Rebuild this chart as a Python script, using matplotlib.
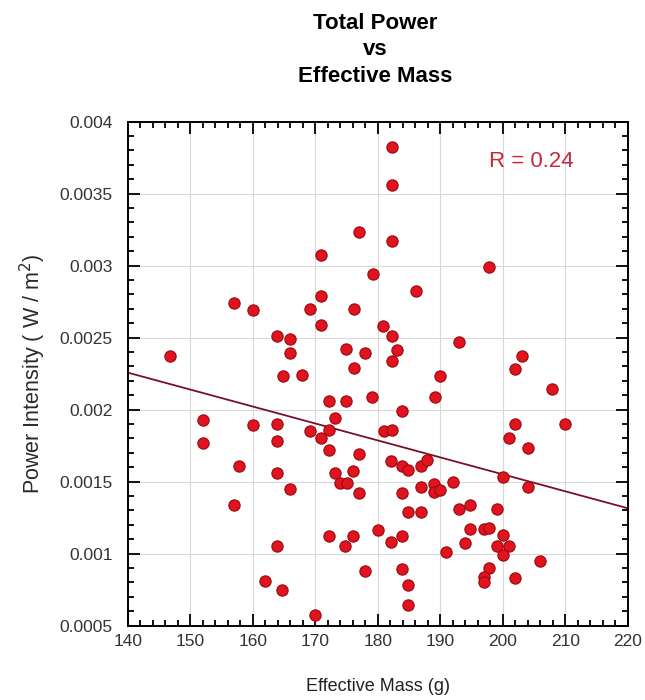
import matplotlib
matplotlib.use("Agg")
import matplotlib.pyplot as plt
from matplotlib.ticker import MultipleLocator, FixedLocator

plt.rcParams["font.family"] = ["Liberation Sans", "DejaVu Sans"]

# effective mass (g) and power intensity (W/m^2)
mass = [
    177.0, 170.9, 179.2, 156.9, 160.0, 170.9, 169.1, 176.1, 170.9, 180.8,
    163.8, 166.0, 146.8, 166.0, 174.9, 177.9, 176.1, 164.8, 167.8, 172.1,
    174.9, 179.0, 152.0, 160.0, 163.9, 173.1, 169.1, 172.1, 152.0, 163.9,
    170.9, 172.1, 176.9, 157.8, 163.9, 173.1, 176.0, 173.9, 175.0, 166.0,
    176.9, 156.9, 172.1, 176.0, 174.8, 163.9, 180.0, 177.9, 162.0, 164.7,
    170.0, 182.2, 182.2, 182.2, 197.8, 186.1, 182.2, 193.0, 183.1, 182.2,
    203.0, 202.0, 189.9, 189.1, 207.8, 183.9, 202.0, 210.0, 181.0, 182.2,
    200.9, 204.0, 182.1, 183.9, 184.8, 186.9, 187.9, 192.0, 200.0, 204.0,
    186.9, 183.9, 189.0, 189.0, 189.9, 192.9, 194.7, 199.0, 184.8, 186.9,
    182.1, 183.9, 194.7, 196.9, 197.8, 200.0, 193.9, 190.9, 199.0, 200.9,
    200.0, 206.0, 183.9, 197.8, 196.9, 196.9, 202.0, 184.8, 184.8,
]
power = [
    0.00323, 0.00307, 0.00294, 0.00274, 0.00269, 0.00279, 0.00270, 0.00270, 0.00259, 0.00258,
    0.00251, 0.00249, 0.00237, 0.00239, 0.00242, 0.00239, 0.00229, 0.00223, 0.00224, 0.00206,
    0.00206, 0.00209, 0.00193, 0.00189, 0.00190, 0.00194, 0.00185, 0.00186, 0.00177, 0.00178,
    0.00180, 0.00172, 0.00169, 0.00161, 0.00156, 0.00156, 0.00157, 0.00149, 0.00149, 0.00145,
    0.00142, 0.00134, 0.00112, 0.00112, 0.00105, 0.00105, 0.00116, 0.00088, 0.00081, 0.00075,
    0.00057, 0.00382, 0.00356, 0.00317, 0.00299, 0.00282, 0.00251, 0.00247, 0.00241, 0.00234,
    0.00237, 0.00228, 0.00223, 0.00209, 0.00214, 0.00199, 0.00190, 0.00190, 0.00185, 0.00186,
    0.00180, 0.00173, 0.00164, 0.00161, 0.00158, 0.00161, 0.00165, 0.00150, 0.00153, 0.00146,
    0.00146, 0.00142, 0.00148, 0.00143, 0.00144, 0.00131, 0.00134, 0.00131, 0.00129, 0.00129,
    0.00108, 0.00112, 0.00117, 0.00117, 0.00118, 0.00113, 0.00107, 0.00101, 0.00105, 0.00105,
    0.00099, 0.00095, 0.00089, 0.00090, 0.00084, 0.00080, 0.00083, 0.00078, 0.00064,
]

# fitted trend line end points
trend_x = [140, 220]
trend_y = [0.002256, 0.001314]

x_ticks = [140, 150, 160, 170, 180, 190, 200, 210, 220]
y_ticks = [0.0005, 0.001, 0.0015, 0.002, 0.0025, 0.003, 0.0035, 0.004]
y_labels = ["0.0005", "0.001", "0.0015", "0.002", "0.0025", "0.003", "0.0035", "0.004"]

fig = plt.figure(figsize=(6.45, 7.0), dpi=100)
ax = fig.add_axes([0.1984, 0.1064, 0.7752, 0.72])

ax.plot(trend_x, trend_y, color="#7a1028", lw=1.3, zorder=2)
ax.scatter(mass, power, s=66, color="#e0141e", edgecolors="#9a0a10",
           linewidths=0.8, zorder=3)

ax.set_xlim(140, 220)
ax.set_ylim(0.0005, 0.004)
ax.xaxis.set_major_locator(FixedLocator(x_ticks))
ax.yaxis.set_major_locator(FixedLocator(y_ticks))
ax.set_yticklabels(y_labels)
ax.xaxis.set_minor_locator(MultipleLocator(2))
ax.yaxis.set_minor_locator(MultipleLocator(0.0001))
ax.tick_params(which="both", direction="in", top=True, right=True,
               width=1.4, labelsize=12.5, labelcolor="#333333", colors="#111111")
ax.tick_params(which="major", length=8.5)
ax.tick_params(which="minor", length=4.3)
ax.tick_params(axis="x", which="major", pad=6)
ax.tick_params(axis="y", which="major", pad=11)
for sp in ax.spines.values():
    sp.set_linewidth(1.4)
ax.grid(True, which="major", color="#d8d8d8", lw=0.8, zorder=0)
ax.set_axisbelow(True)

ax.set_xlabel("Effective Mass (g)", fontsize=13, labelpad=21, color="#222222")
ax.set_ylabel("Power Intensity ( W / m$^2$)", fontsize=15.5, labelpad=8, color="#2a2a2a")

ax.text(0.806, 0.92, "R = 0.24", transform=ax.transAxes, ha="center", va="center",
        fontsize=16, color="#c8283a")

fig.text(0.582, 0.9286, "Total Power\nvs\nEffective Mass", ha="center", va="center",
         fontsize=16, fontweight="bold", linespacing=1.34,
         family=["Liberation Sans Narrow", "Liberation Sans", "DejaVu Sans"])

fig.savefig("out.png", dpi=100)
